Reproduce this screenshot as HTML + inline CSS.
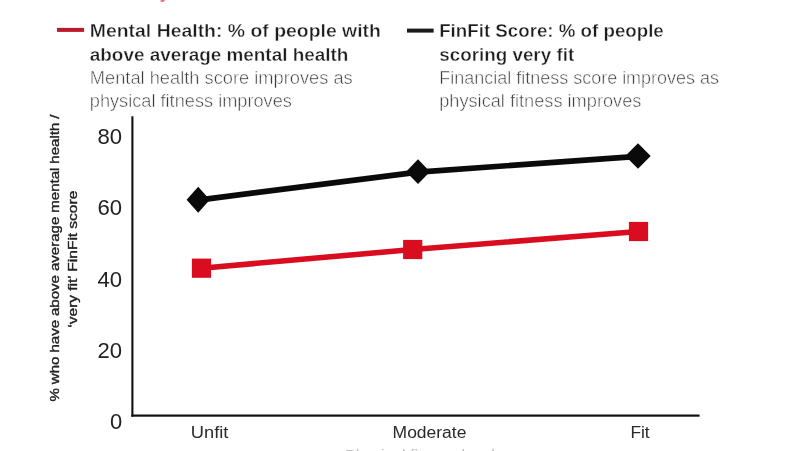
<!DOCTYPE html>
<html lang="en">
<head>
<meta charset="utf-8">
<title>Physical fitness vs mental health and FinFit score</title>
<style>
  html, body { margin: 0; padding: 0; background: #ffffff; }
  body { width: 803px; height: 451px; overflow: hidden; position: relative; }
  svg { position: absolute; left: 0; top: 0; display: block; will-change: transform; -webkit-font-smoothing: antialiased; }
  text { font-family: "Liberation Sans", sans-serif; }
  .b { font-weight: bold; fill: #1c1c1c; font-size: 17.5px; stroke: #ffffff; stroke-width: 0.35px; paint-order: fill stroke; }
  .l { font-weight: normal; fill: #3c3c3c; font-size: 17.5px; stroke: #ffffff; stroke-width: 0.5px; paint-order: fill stroke; }
  .tick { fill: #222222; font-size: 22.5px; }
  .cat { fill: #2a2a2a; font-size: 16px; }
  .yt { fill: #222222; font-size: 13.7px; stroke: #222222; stroke-width: 0.38px; word-spacing: -0.2px; }
</style>
</head>
<body>
<svg width="803" height="451" viewBox="0 0 803 451">
  <rect x="0" y="0" width="803" height="451" fill="#ffffff"/>

  <!-- cropped heading remnants at the very top -->
  <text x="137.5" y="-2.4" font-size="17.5" font-weight="bold" fill="#e8707c">Physical fitness</text>

  <!-- legend: left -->
  <rect x="57" y="27.9" width="27.1" height="4" fill="#ba1a2c"/>
  <text class="b" x="89.8" y="37.3" textLength="291.1" lengthAdjust="spacingAndGlyphs">Mental Health: % of people with</text>
  <text class="b" x="89.8" y="61.0" textLength="258.6" lengthAdjust="spacingAndGlyphs">above average mental health</text>
  <text class="l" x="89.8" y="84.3" textLength="262.9" lengthAdjust="spacingAndGlyphs">Mental health score improves as</text>
  <text class="l" x="89.8" y="107.0" textLength="202.1" lengthAdjust="spacingAndGlyphs">physical fitness improves</text>

  <!-- legend: right -->
  <rect x="407" y="28.6" width="26.6" height="4" fill="#1a1a1a"/>
  <text class="b" x="439.2" y="37.3" textLength="224.6" lengthAdjust="spacingAndGlyphs">FinFit Score: % of people</text>
  <text class="b" x="439.2" y="61.0" textLength="135.0" lengthAdjust="spacingAndGlyphs">scoring very fit</text>
  <text class="l" x="439.2" y="84.3" textLength="279.9" lengthAdjust="spacingAndGlyphs">Financial fitness score improves as</text>
  <text class="l" x="439.2" y="107.0" textLength="202.2" lengthAdjust="spacingAndGlyphs">physical fitness improves</text>

  <!-- axes -->
  <rect x="131.35" y="116.3" width="2.1" height="300.4" fill="#111111"/>
  <rect x="131.35" y="414.5" width="568.2" height="2.2" fill="#111111"/>

  <!-- y tick labels -->
  <text class="tick" x="97.4" y="144.2" textLength="24.6" lengthAdjust="spacingAndGlyphs">80</text>
  <text class="tick" x="97.4" y="215.3" textLength="24.6" lengthAdjust="spacingAndGlyphs">60</text>
  <text class="tick" x="97.4" y="287.2" textLength="24.6" lengthAdjust="spacingAndGlyphs">40</text>
  <text class="tick" x="97.4" y="357.5" textLength="24.6" lengthAdjust="spacingAndGlyphs">20</text>
  <text class="tick" x="109.9" y="428.7" textLength="12.2" lengthAdjust="spacingAndGlyphs">0</text>

  <!-- y axis title -->
  <g transform="translate(58.5 258.0) rotate(-90)">
    <text class="yt" x="0" y="0" text-anchor="middle" textLength="287" lengthAdjust="spacingAndGlyphs">% who have above average mental health /</text>
  </g>
  <g transform="translate(77.2 259.2) rotate(-90)">
    <text class="yt" x="0" y="0" text-anchor="middle" textLength="137" lengthAdjust="spacingAndGlyphs">‘very fit’ FinFit score</text>
  </g>

  <!-- series: FinFit (black, diamonds) -->
  <polyline points="198.2,200.1 418,172.1 638,156.3" fill="none" stroke="#0a0a0a" stroke-width="5.7"/>
  <path d="M198.2 186.7 L209.8 199.7 L198.2 212.7 L186.6 199.7 Z" fill="#0a0a0a"/>
  <path d="M418 159.3 L430 171.7 L418 184.1 L406 171.7 Z" fill="#0a0a0a"/>
  <path d="M638 143.3 L650.7 156 L638 168.8 L625.3 156 Z" fill="#0a0a0a"/>

  <!-- series: Mental Health (red, squares) -->
  <polyline points="201.5,268.2 412.7,249.5 638.5,231.5" fill="none" stroke="#d90d1f" stroke-width="5.6"/>
  <rect x="191.9" y="258.6" width="19.2" height="19.2" fill="#d90d1f"/>
  <rect x="403.1" y="239.9" width="19.2" height="19.2" fill="#d90d1f"/>
  <rect x="628.9" y="221.9" width="19.2" height="19.2" fill="#d90d1f"/>

  <!-- x category labels -->
  <text class="cat" x="190.8" y="437.6" textLength="37.6" lengthAdjust="spacingAndGlyphs">Unfit</text>
  <text class="cat" x="392.6" y="437.6" textLength="73.8" lengthAdjust="spacingAndGlyphs">Moderate</text>
  <text class="cat" x="630.4" y="437.6" textLength="19.2" lengthAdjust="spacingAndGlyphs">Fit</text>

  <!-- cropped x axis title at the very bottom -->
  <text x="345" y="460.3" font-size="14" fill="#c0c0c0" textLength="158" lengthAdjust="spacingAndGlyphs">Physical fitness levels</text>
</svg>
</body>
</html>
